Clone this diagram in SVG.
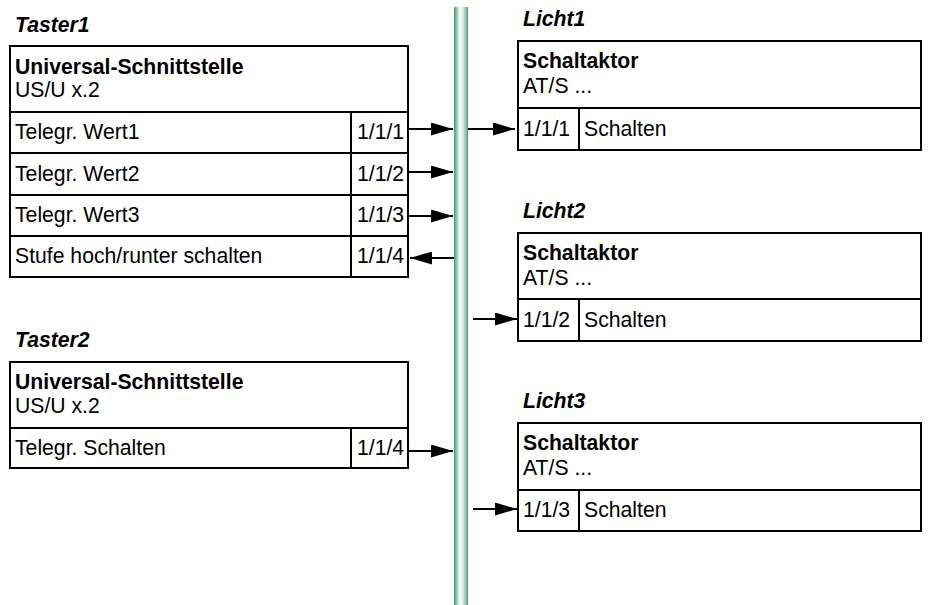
<svg xmlns="http://www.w3.org/2000/svg" width="928" height="605" viewBox="0 0 928 605">
  <style>
    text { font-family: "Liberation Sans", Arial, sans-serif; font-size: 21.2px; fill: #000; }
    .title { font-weight: bold; font-style: italic; }
    .bold { font-weight: bold; }
    .box { fill: #fff; stroke: #000; stroke-width: 2; }
    .line { stroke: #000; stroke-width: 2; fill: none; }
    .conn { stroke: #000; stroke-width: 2; fill: none; marker-end: url(#arrow); }
  </style>
  <defs>
    <linearGradient id="busGrad" x1="0" y1="0" x2="1" y2="0">
      <stop offset="0" stop-color="#3a9b6b"/>
      <stop offset="0.15" stop-color="#7cc19c"/>
      <stop offset="0.42" stop-color="#ffffff"/>
      <stop offset="0.6" stop-color="#e6f1ea"/>
      <stop offset="0.85" stop-color="#8cc7a6"/>
      <stop offset="1" stop-color="#3a9b6b"/>
    </linearGradient>
    <marker id="arrow" markerWidth="11" markerHeight="6.5" refX="11" refY="3.25" orient="auto" markerUnits="strokeWidth">
      <path d="M0,0 L11,3.25 L0,6.5 Z" fill="#000"/>
    </marker>
  </defs>

  <rect width="928" height="605" fill="#fff"/>

  <!-- bus line -->
  <rect id="bus" x="454" y="7" width="14" height="598" fill="url(#busGrad)"/>

  <!-- Taster1 -->
  <g id="taster1">
    <text class="title" x="15" y="32">Taster1</text>
    <rect class="box" x="10" y="46" width="398" height="231"/>
    <line class="line" x1="10" y1="112" x2="408" y2="112"/>
    <line class="line" x1="10" y1="153" x2="408" y2="153"/>
    <line class="line" x1="10" y1="195" x2="408" y2="195"/>
    <line class="line" x1="10" y1="236" x2="408" y2="236"/>
    <line class="line" x1="351" y1="112" x2="351" y2="277"/>
    <text class="bold" x="15" y="74">Universal-Schnittstelle</text>
    <text x="15" y="97">US/U x.2</text>
    <text x="15" y="139">Telegr. Wert1</text>
    <text x="357" y="139">1/1/1</text>
    <text x="15" y="181">Telegr. Wert2</text>
    <text x="357" y="181">1/1/2</text>
    <text x="15" y="222">Telegr. Wert3</text>
    <text x="357" y="222">1/1/3</text>
    <text x="15" y="263">Stufe hoch/runter schalten</text>
    <text x="357" y="263">1/1/4</text>
  </g>

  <!-- Taster2 -->
  <g id="taster2">
    <text class="title" x="15" y="347">Taster2</text>
    <rect class="box" x="10" y="362" width="398" height="106"/>
    <line class="line" x1="10" y1="428" x2="408" y2="428"/>
    <line class="line" x1="351" y1="428" x2="351" y2="468"/>
    <text class="bold" x="15" y="389">Universal-Schnittstelle</text>
    <text x="15" y="413">US/U x.2</text>
    <text x="15" y="455">Telegr. Schalten</text>
    <text x="357" y="455">1/1/4</text>
  </g>

  <!-- Licht1 -->
  <g id="licht1">
    <text class="title" x="523" y="26">Licht1</text>
    <rect class="box" x="518" y="41" width="403" height="109"/>
    <line class="line" x1="518" y1="108" x2="921" y2="108"/>
    <line class="line" x1="579" y1="108" x2="579" y2="150"/>
    <text class="bold" x="523" y="68">Schaltaktor</text>
    <text x="523" y="93">AT/S ...</text>
    <text x="523" y="136">1/1/1</text>
    <text x="584" y="136">Schalten</text>
  </g>

  <!-- Licht2 -->
  <g id="licht2">
    <text class="title" x="523" y="218">Licht2</text>
    <rect class="box" x="518" y="233" width="403" height="108"/>
    <line class="line" x1="518" y1="299" x2="921" y2="299"/>
    <line class="line" x1="579" y1="299" x2="579" y2="341"/>
    <text class="bold" x="523" y="260">Schaltaktor</text>
    <text x="523" y="285">AT/S ...</text>
    <text x="523" y="327">1/1/2</text>
    <text x="584" y="327">Schalten</text>
  </g>

  <!-- Licht3 -->
  <g id="licht3">
    <text class="title" x="523" y="408">Licht3</text>
    <rect class="box" x="518" y="423" width="403" height="108"/>
    <line class="line" x1="518" y1="490" x2="921" y2="490"/>
    <line class="line" x1="579" y1="490" x2="579" y2="531"/>
    <text class="bold" x="523" y="450">Schaltaktor</text>
    <text x="523" y="475">AT/S ...</text>
    <text x="523" y="517">1/1/3</text>
    <text x="584" y="517">Schalten</text>
  </g>

  <!-- connectors -->
  <g id="connectors">
    <line class="conn" x1="408" y1="129" x2="453" y2="129"/>
    <line class="conn" x1="408" y1="172" x2="453" y2="172"/>
    <line class="conn" x1="408" y1="216" x2="453" y2="216"/>
    <line class="conn" x1="454" y1="258" x2="410" y2="258"/>
    <line class="conn" x1="408" y1="451" x2="453" y2="451"/>
    <line class="conn" x1="468" y1="129" x2="515" y2="129"/>
    <line class="conn" x1="473" y1="319" x2="517" y2="319"/>
    <line class="conn" x1="473" y1="509" x2="517" y2="509"/>
  </g>
</svg>
